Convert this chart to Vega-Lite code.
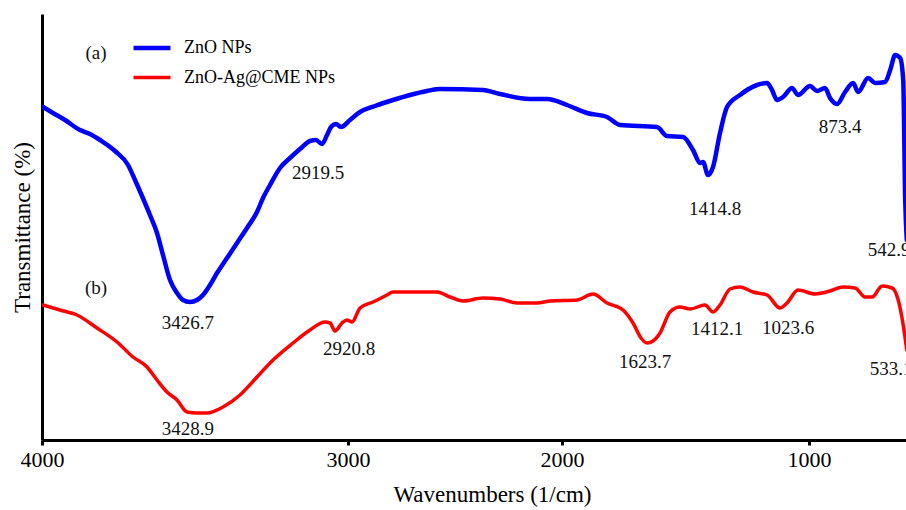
{
"$schema": "https://vega.github.io/schema/vega-lite/v6.json",
"width": 864, "height": 426,
"autosize": {"type": "none"},
"padding": {"left": 42, "top": 14, "right": 0, "bottom": 70},
"background": "white",
"config": {"font": "Liberation Serif", "view": {"stroke": null}},
"datasets": {
"spectra": [
{"sample":"ZnO NPs","wavenumber":3996.7,"transmittance":66.6},
{"sample":"ZnO NPs","wavenumber":3964.1,"transmittance":65.4},
{"sample":"ZnO NPs","wavenumber":3924.8,"transmittance":64.0},
{"sample":"ZnO NPs","wavenumber":3875.8,"transmittance":62.0},
{"sample":"ZnO NPs","wavenumber":3843.1,"transmittance":61.2},
{"sample":"ZnO NPs","wavenumber":3810.5,"transmittance":60.0},
{"sample":"ZnO NPs","wavenumber":3761.4,"transmittance":57.8},
{"sample":"ZnO NPs","wavenumber":3718.9,"transmittance":55.0},
{"sample":"ZnO NPs","wavenumber":3696.1,"transmittance":52.0},
{"sample":"ZnO NPs","wavenumber":3673.2,"transmittance":48.8},
{"sample":"ZnO NPs","wavenumber":3647.1,"transmittance":45.0},
{"sample":"ZnO NPs","wavenumber":3624.2,"transmittance":41.4},
{"sample":"ZnO NPs","wavenumber":3604.6,"transmittance":37.0},
{"sample":"ZnO NPs","wavenumber":3581.7,"transmittance":32.0},
{"sample":"ZnO NPs","wavenumber":3558.8,"transmittance":29.4},
{"sample":"ZnO NPs","wavenumber":3539.2,"transmittance":28.0},
{"sample":"ZnO NPs","wavenumber":3516.3,"transmittance":27.6},
{"sample":"ZnO NPs","wavenumber":3493.5,"transmittance":28.0},
{"sample":"ZnO NPs","wavenumber":3473.9,"transmittance":29.0},
{"sample":"ZnO NPs","wavenumber":3451.0,"transmittance":31.0},
{"sample":"ZnO NPs","wavenumber":3428.1,"transmittance":33.4},
{"sample":"ZnO NPs","wavenumber":3395.4,"transmittance":36.4},
{"sample":"ZnO NPs","wavenumber":3362.7,"transmittance":39.4},
{"sample":"ZnO NPs","wavenumber":3330.1,"transmittance":42.4},
{"sample":"ZnO NPs","wavenumber":3297.4,"transmittance":45.6},
{"sample":"ZnO NPs","wavenumber":3277.8,"transmittance":48.4},
{"sample":"ZnO NPs","wavenumber":3254.9,"transmittance":51.0},
{"sample":"ZnO NPs","wavenumber":3222.2,"transmittance":54.4},
{"sample":"ZnO NPs","wavenumber":3189.5,"transmittance":56.4},
{"sample":"ZnO NPs","wavenumber":3156.9,"transmittance":58.2},
{"sample":"ZnO NPs","wavenumber":3124.2,"transmittance":59.8},
{"sample":"ZnO NPs","wavenumber":3104.6,"transmittance":60.0},
{"sample":"ZnO NPs","wavenumber":3084.9,"transmittance":59.2},
{"sample":"ZnO NPs","wavenumber":3068.6,"transmittance":61.0},
{"sample":"ZnO NPs","wavenumber":3055.5,"transmittance":62.6},
{"sample":"ZnO NPs","wavenumber":3039.2,"transmittance":63.2},
{"sample":"ZnO NPs","wavenumber":3022.9,"transmittance":62.6},
{"sample":"ZnO NPs","wavenumber":2990.7,"transmittance":64.0},
{"sample":"ZnO NPs","wavenumber":2943.9,"transmittance":65.6},
{"sample":"ZnO NPs","wavenumber":2873.8,"transmittance":66.8},
{"sample":"ZnO NPs","wavenumber":2789.7,"transmittance":68.0},
{"sample":"ZnO NPs","wavenumber":2710.3,"transmittance":69.0},
{"sample":"ZnO NPs","wavenumber":2630.8,"transmittance":69.8},
{"sample":"ZnO NPs","wavenumber":2570.1,"transmittance":70.2},
{"sample":"ZnO NPs","wavenumber":2369.1,"transmittance":70.0},
{"sample":"ZnO NPs","wavenumber":2289.7,"transmittance":69.2},
{"sample":"ZnO NPs","wavenumber":2149.5,"transmittance":68.2},
{"sample":"ZnO NPs","wavenumber":2070.1,"transmittance":68.2},
{"sample":"ZnO NPs","wavenumber":1979.8,"transmittance":67.0},
{"sample":"ZnO NPs","wavenumber":1898.8,"transmittance":65.4},
{"sample":"ZnO NPs","wavenumber":1817.8,"transmittance":64.6},
{"sample":"ZnO NPs","wavenumber":1765.2,"transmittance":63.0},
{"sample":"ZnO NPs","wavenumber":1615.3,"transmittance":62.6},
{"sample":"ZnO NPs","wavenumber":1574.9,"transmittance":60.8},
{"sample":"ZnO NPs","wavenumber":1510.1,"transmittance":60.6},
{"sample":"ZnO NPs","wavenumber":1469.6,"transmittance":58.0},
{"sample":"ZnO NPs","wavenumber":1441.2,"transmittance":55.4},
{"sample":"ZnO NPs","wavenumber":1429.1,"transmittance":55.6},
{"sample":"ZnO NPs","wavenumber":1408.8,"transmittance":53.0},
{"sample":"ZnO NPs","wavenumber":1388.6,"transmittance":54.6},
{"sample":"ZnO NPs","wavenumber":1360.3,"transmittance":61.4},
{"sample":"ZnO NPs","wavenumber":1331.9,"transmittance":66.6},
{"sample":"ZnO NPs","wavenumber":1279.3,"transmittance":69.0},
{"sample":"ZnO NPs","wavenumber":1210.4,"transmittance":71.0},
{"sample":"ZnO NPs","wavenumber":1169.9,"transmittance":71.4},
{"sample":"ZnO NPs","wavenumber":1149.7,"transmittance":70.0},
{"sample":"ZnO NPs","wavenumber":1129.5,"transmittance":68.0},
{"sample":"ZnO NPs","wavenumber":1105.2,"transmittance":68.6},
{"sample":"ZnO NPs","wavenumber":1068.7,"transmittance":70.4},
{"sample":"ZnO NPs","wavenumber":1044.4,"transmittance":69.0},
{"sample":"ZnO NPs","wavenumber":996.0,"transmittance":70.8},
{"sample":"ZnO NPs","wavenumber":967.6,"transmittance":69.8},
{"sample":"ZnO NPs","wavenumber":935.2,"transmittance":70.4},
{"sample":"ZnO NPs","wavenumber":915.0,"transmittance":68.4},
{"sample":"ZnO NPs","wavenumber":886.6,"transmittance":67.2},
{"sample":"ZnO NPs","wavenumber":854.2,"transmittance":69.6},
{"sample":"ZnO NPs","wavenumber":821.8,"transmittance":71.4},
{"sample":"ZnO NPs","wavenumber":801.6,"transmittance":69.6},
{"sample":"ZnO NPs","wavenumber":761.1,"transmittance":72.4},
{"sample":"ZnO NPs","wavenumber":732.8,"transmittance":71.4},
{"sample":"ZnO NPs","wavenumber":692.3,"transmittance":71.6},
{"sample":"ZnO NPs","wavenumber":672.0,"transmittance":74.0},
{"sample":"ZnO NPs","wavenumber":651.8,"transmittance":77.0},
{"sample":"ZnO NPs","wavenumber":631.5,"transmittance":76.4},
{"sample":"ZnO NPs","wavenumber":619.4,"transmittance":72.0},
{"sample":"ZnO NPs","wavenumber":611.3,"transmittance":48.0},
{"sample":"ZnO NPs","wavenumber":605.0,"transmittance":40.0},
{"sample":"ZnO-Ag@CME NPs","wavenumber":3996.7,"transmittance":27.0},
{"sample":"ZnO-Ag@CME NPs","wavenumber":3941.2,"transmittance":26.0},
{"sample":"ZnO-Ag@CME NPs","wavenumber":3885.6,"transmittance":25.0},
{"sample":"ZnO-Ag@CME NPs","wavenumber":3820.3,"transmittance":22.4},
{"sample":"ZnO-Ag@CME NPs","wavenumber":3754.9,"transmittance":19.6},
{"sample":"ZnO-Ag@CME NPs","wavenumber":3702.6,"transmittance":16.6},
{"sample":"ZnO-Ag@CME NPs","wavenumber":3656.9,"transmittance":14.6},
{"sample":"ZnO-Ag@CME NPs","wavenumber":3624.2,"transmittance":12.0},
{"sample":"ZnO-Ag@CME NPs","wavenumber":3591.5,"transmittance":9.6},
{"sample":"ZnO-Ag@CME NPs","wavenumber":3558.8,"transmittance":8.0},
{"sample":"ZnO-Ag@CME NPs","wavenumber":3526.1,"transmittance":5.6},
{"sample":"ZnO-Ag@CME NPs","wavenumber":3493.5,"transmittance":5.4},
{"sample":"ZnO-Ag@CME NPs","wavenumber":3460.8,"transmittance":5.4},
{"sample":"ZnO-Ag@CME NPs","wavenumber":3408.5,"transmittance":6.6},
{"sample":"ZnO-Ag@CME NPs","wavenumber":3352.9,"transmittance":9.0},
{"sample":"ZnO-Ag@CME NPs","wavenumber":3297.4,"transmittance":12.6},
{"sample":"ZnO-Ag@CME NPs","wavenumber":3245.1,"transmittance":16.0},
{"sample":"ZnO-Ag@CME NPs","wavenumber":3179.7,"transmittance":19.4},
{"sample":"ZnO-Ag@CME NPs","wavenumber":3124.2,"transmittance":22.0},
{"sample":"ZnO-Ag@CME NPs","wavenumber":3075.2,"transmittance":23.6},
{"sample":"ZnO-Ag@CME NPs","wavenumber":3058.8,"transmittance":23.4},
{"sample":"ZnO-Ag@CME NPs","wavenumber":3042.5,"transmittance":21.8},
{"sample":"ZnO-Ag@CME NPs","wavenumber":3019.6,"transmittance":23.4},
{"sample":"ZnO-Ag@CME NPs","wavenumber":3003.3,"transmittance":24.0},
{"sample":"ZnO-Ag@CME NPs","wavenumber":2981.3,"transmittance":23.6},
{"sample":"ZnO-Ag@CME NPs","wavenumber":2943.9,"transmittance":26.4},
{"sample":"ZnO-Ag@CME NPs","wavenumber":2883.2,"transmittance":27.6},
{"sample":"ZnO-Ag@CME NPs","wavenumber":2817.8,"transmittance":29.0},
{"sample":"ZnO-Ag@CME NPs","wavenumber":2789.7,"transmittance":29.6},
{"sample":"ZnO-Ag@CME NPs","wavenumber":2584.1,"transmittance":29.6},
{"sample":"ZnO-Ag@CME NPs","wavenumber":2523.4,"transmittance":28.6},
{"sample":"ZnO-Ag@CME NPs","wavenumber":2462.6,"transmittance":27.8},
{"sample":"ZnO-Ag@CME NPs","wavenumber":2369.1,"transmittance":28.4},
{"sample":"ZnO-Ag@CME NPs","wavenumber":2289.7,"transmittance":28.2},
{"sample":"ZnO-Ag@CME NPs","wavenumber":2210.3,"transmittance":27.4},
{"sample":"ZnO-Ag@CME NPs","wavenumber":2116.8,"transmittance":27.4},
{"sample":"ZnO-Ag@CME NPs","wavenumber":2056.1,"transmittance":27.8},
{"sample":"ZnO-Ag@CME NPs","wavenumber":1939.3,"transmittance":28.0},
{"sample":"ZnO-Ag@CME NPs","wavenumber":1874.5,"transmittance":29.2},
{"sample":"ZnO-Ag@CME NPs","wavenumber":1817.8,"transmittance":27.4},
{"sample":"ZnO-Ag@CME NPs","wavenumber":1753.0,"transmittance":26.0},
{"sample":"ZnO-Ag@CME NPs","wavenumber":1712.5,"transmittance":23.4},
{"sample":"ZnO-Ag@CME NPs","wavenumber":1680.1,"transmittance":20.4},
{"sample":"ZnO-Ag@CME NPs","wavenumber":1655.8,"transmittance":19.4},
{"sample":"ZnO-Ag@CME NPs","wavenumber":1631.5,"transmittance":19.8},
{"sample":"ZnO-Ag@CME NPs","wavenumber":1603.2,"transmittance":21.4},
{"sample":"ZnO-Ag@CME NPs","wavenumber":1562.7,"transmittance":25.6},
{"sample":"ZnO-Ag@CME NPs","wavenumber":1522.2,"transmittance":26.6},
{"sample":"ZnO-Ag@CME NPs","wavenumber":1481.7,"transmittance":26.2},
{"sample":"ZnO-Ag@CME NPs","wavenumber":1421.0,"transmittance":27.0},
{"sample":"ZnO-Ag@CME NPs","wavenumber":1388.6,"transmittance":25.6},
{"sample":"ZnO-Ag@CME NPs","wavenumber":1360.3,"transmittance":27.0},
{"sample":"ZnO-Ag@CME NPs","wavenumber":1319.8,"transmittance":30.2},
{"sample":"ZnO-Ag@CME NPs","wavenumber":1279.3,"transmittance":30.6},
{"sample":"ZnO-Ag@CME NPs","wavenumber":1226.6,"transmittance":29.6},
{"sample":"ZnO-Ag@CME NPs","wavenumber":1169.9,"transmittance":29.0},
{"sample":"ZnO-Ag@CME NPs","wavenumber":1117.3,"transmittance":26.4},
{"sample":"ZnO-Ag@CME NPs","wavenumber":1089.0,"transmittance":27.4},
{"sample":"ZnO-Ag@CME NPs","wavenumber":1044.4,"transmittance":30.0},
{"sample":"ZnO-Ag@CME NPs","wavenumber":975.7,"transmittance":29.2},
{"sample":"ZnO-Ag@CME NPs","wavenumber":915.0,"transmittance":29.8},
{"sample":"ZnO-Ag@CME NPs","wavenumber":862.3,"transmittance":30.6},
{"sample":"ZnO-Ag@CME NPs","wavenumber":813.7,"transmittance":30.4},
{"sample":"ZnO-Ag@CME NPs","wavenumber":773.3,"transmittance":28.6},
{"sample":"ZnO-Ag@CME NPs","wavenumber":744.9,"transmittance":28.6},
{"sample":"ZnO-Ag@CME NPs","wavenumber":704.4,"transmittance":30.8},
{"sample":"ZnO-Ag@CME NPs","wavenumber":663.9,"transmittance":30.4},
{"sample":"ZnO-Ag@CME NPs","wavenumber":639.6,"transmittance":28.0},
{"sample":"ZnO-Ag@CME NPs","wavenumber":619.4,"transmittance":23.0},
{"sample":"ZnO-Ag@CME NPs","wavenumber":605.0,"transmittance":18.0}
],
"peaks": [
{"label":"2919.5","wavenumber":3098.0,"transmittance":53.4},
{"label":"3426.7","wavenumber":3522.9,"transmittance":23.4},
{"label":"1414.8","wavenumber":1380.5,"transmittance":46.2},
{"label":"873.4","wavenumber":874.5,"transmittance":62.6},
{"label":"542.9","wavenumber":676.0,"transmittance":38.0},
{"label":"2920.8","wavenumber":2995.3,"transmittance":18.2},
{"label":"3428.9","wavenumber":3522.9,"transmittance":2.2},
{"label":"1623.7","wavenumber":1663.9,"transmittance":15.6},
{"label":"1412.1","wavenumber":1372.4,"transmittance":22.2},
{"label":"1023.6","wavenumber":1084.9,"transmittance":22.4},
{"label":"533.1","wavenumber":668.0,"transmittance":14.2},
{"label":"(a)","wavenumber":3823.5,"transmittance":77.4},
{"label":"(b)","wavenumber":3823.5,"transmittance":30.4}
]
},
"layer": [
{
"data": {"name": "spectra"},
"mark": {"type": "line", "clip": true, "strokeCap": "round", "strokeJoin": "round", "interpolate": "monotone"},
"encoding": {
"x": {"field": "wavenumber", "type": "quantitative",
 "scale": {"domain": [4000, 3000, 2000, 1000, 600], "range": [0, 306, 520, 767, 866], "nice": false, "zero": false},
 "axis": {"values": [4000, 3000, 2000, 1000], "format": "d", "grid": false, "labelFlush": false,
  "domainColor": "black", "domainWidth": 3, "tickColor": "black", "tickWidth": 3, "tickSize": 5,
  "labelFontSize": 22, "labelColor": "black", "labelPadding": 4, "labelFont": "Liberation Serif",
  "title": "Wavenumbers (1/cm)", "titleFont": "Liberation Serif", "titleFontSize": 23, "titleFontWeight": "normal",
  "titleColor": "black", "titlePadding": 13, "titleX": 450}},
"y": {"field": "transmittance", "type": "quantitative",
 "scale": {"domain": [0, 85.2], "nice": false, "zero": false},
 "axis": {"grid": false, "ticks": false, "labels": false, "domainColor": "black", "domainWidth": 3,
  "title": "Transmittance (%)", "titleFont": "Liberation Serif", "titleFontSize": 23, "titleFontWeight": "normal",
  "titleColor": "black", "titlePadding": 8}},
"order": {"field": "wavenumber", "sort": "descending"},
"color": {"field": "sample", "type": "nominal",
 "scale": {"domain": ["ZnO NPs", "ZnO-Ag@CME NPs"], "range": ["#0000ff", "#ff0000"]},
 "legend": {"orient": "none", "legendX": 89, "legendY": 13, "title": null, "padding": 0,
  "symbolType": "stroke", "symbolSize": 1369, "symbolStrokeWidth": 4.5,
  "labelFontSize": 18, "labelFont": "Liberation Serif", "labelColor": "black", "labelOffset": 11, "rowPadding": -10}},
"strokeWidth": {"field": "sample", "type": "ordinal",
 "scale": {"domain": ["ZnO NPs", "ZnO-Ag@CME NPs"], "range": [4.5, 3.5]}, "legend": null}
}
},
{
"mark": {"type": "rule", "color": "black", "strokeWidth": 3},
"encoding": {"y": {"datum": 85.2}}
},
{
"data": {"name": "peaks"},
"mark": {"type": "text", "fontSize": 19, "font": "Liberation Serif", "color": "#111", "align": "center", "baseline": "middle"},
"encoding": {
"x": {"field": "wavenumber", "type": "quantitative"},
"y": {"field": "transmittance", "type": "quantitative"},
"text": {"field": "label"}
}
}
]
}
